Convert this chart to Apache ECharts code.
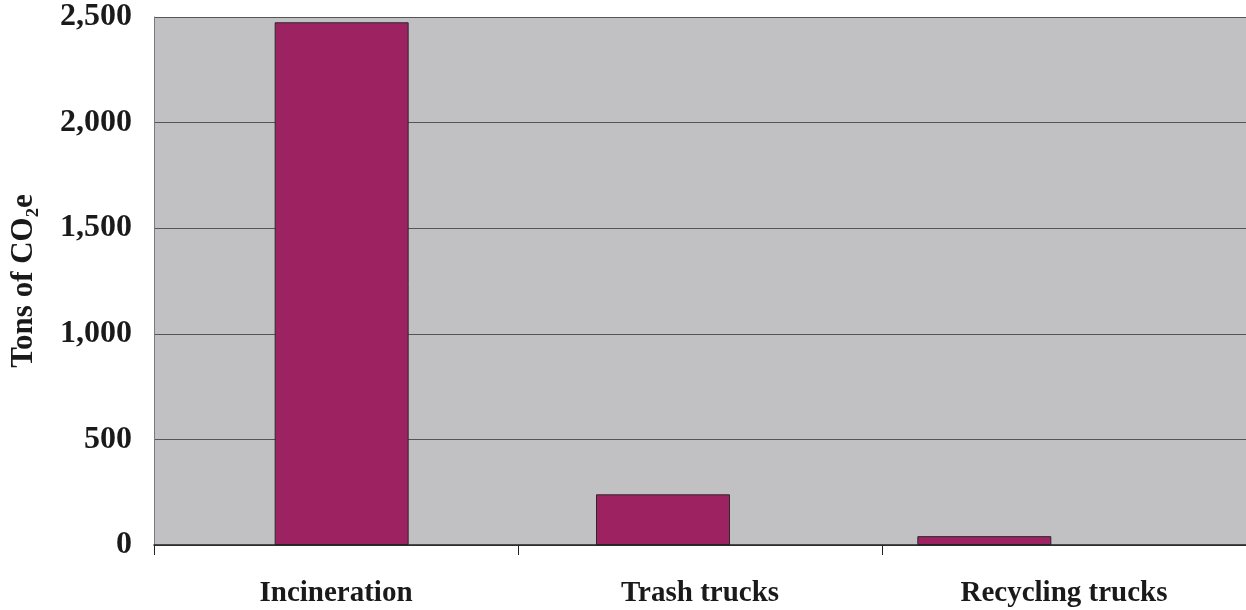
<!DOCTYPE html>
<html><head><meta charset="utf-8">
<script src="https://cdn.jsdelivr.net/npm/echarts@6/dist/echarts.min.js"></script>
<style>html,body{margin:0;padding:0;background:#fff}#c{width:1246px;height:610px}</style>
</head><body><div id="c"></div>
<script>
const categories = ['Incineration', 'Trash trucks', 'Recycling trucks'];
const values = [2475, 240, 42];
const yTicks = [0, 500, 1000, 1500, 2000, 2500];

const chart = echarts.init(document.getElementById('c'));
const serif = '"Liberation Serif", "DejaVu Serif", serif';
const plotBg = '#c1c1c4';
const yMin = yTicks[0], yMax = yTicks[yTicks.length - 1], yStep = yTicks[1] - yTicks[0];
chart.setOption({
  animation: false,
  grid: [
    // frame grid: background, gridlines, axis labels
    { left: 150, right: 0, top: 17, bottom: 65, backgroundColor: plotBg, show: true, borderWidth: 0 },
    // bar grid (scanned original places bars slightly differently from the labels)
    { left: 181, width: 964, top: 17, bottom: 65 }
  ],
  xAxis: [{
    type: 'category', data: categories, gridIndex: 0, z: 3,
    axisLine: { lineStyle: { color: '#222', width: 1.5 } },
    axisTick: { show: true, length: 10, lineStyle: { color: '#222' } },
    axisLabel: { fontFamily: serif, fontWeight: 'bold', fontSize: 29, color: '#1a1a1a', margin: 34 }
  }, {
    type: 'category', data: categories, gridIndex: 1, show: false
  }],
  yAxis: [{
    type: 'value', gridIndex: 0, min: yMin, max: yMax, interval: yStep,
    name: 'Tons of CO\u2082e', nameLocation: 'middle', nameGap: 115, nameRotate: 90,
    nameTextStyle: { fontFamily: serif, fontWeight: 'bold', fontSize: 31, color: '#1a1a1a' },
    axisLine: { show: true, lineStyle: { color: '#7a7a7a', width: 1 } },
    axisTick: { show: false },
    splitLine: { lineStyle: { color: '#555', width: 1 } },
    axisLabel: {
      fontFamily: serif, fontWeight: 'bold', fontSize: 32, color: '#1a1a1a', margin: 22,
      formatter: v => v.toLocaleString('en-US')
    }
  }, {
    type: 'value', gridIndex: 1, min: yMin, max: yMax, interval: yStep, show: false,
    splitLine: { show: false }
  }],
  series: [{
    type: 'bar', data: values, barWidth: 134, xAxisIndex: 1, yAxisIndex: 1,
    itemStyle: { color: '#9d2262', borderColor: '#2a2a2a', borderWidth: 1 }
  }]
});
</script></body></html>
